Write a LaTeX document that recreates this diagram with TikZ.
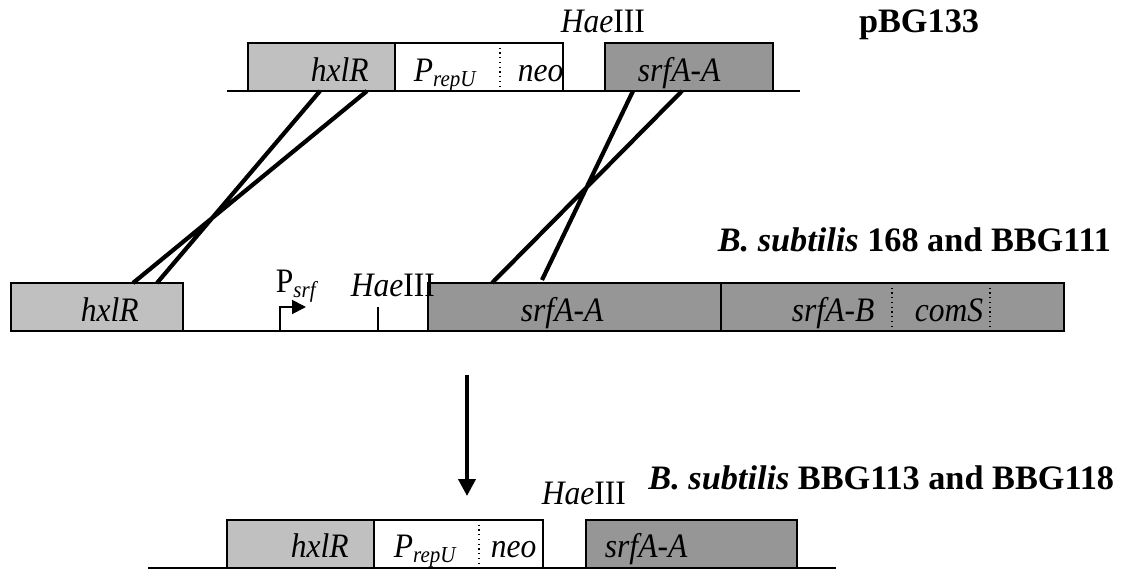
\documentclass[tikz,border=0pt]{standalone}
\usepackage{fontspec}
\setmainfont{Liberation Serif}
\newfontfamily\genefont[FakeStretch=0.92]{Liberation Serif}
\usetikzlibrary{arrows.meta}
\definecolor{lightgene}{HTML}{C0C0C0}
\definecolor{darkgene}{HTML}{969696}
\newcommand{\lowsub}[1]{\raisebox{-2.8pt}{\fontsize{13}{14}\selectfont #1}}
\begin{document}
\begin{tikzpicture}[x=0.02cm, y=-0.02cm, line width=1.1pt,
    gene/.style={inner sep=0, anchor=base west, font=\genefont\fontsize{19.5}{21}\selectfont\itshape},
    site/.style={inner sep=0, anchor=base west, font=\genefont\fontsize{19.5}{21}\selectfont},
    strain/.style={inner sep=0, anchor=base east, font=\fontsize{19.5}{22}\selectfont\bfseries},
    cross/.style={line width=2.4pt},
    divider/.style={dotted, line width=0.7pt}]
  \useasboundingbox (0,0) rectangle (1126,570);
  % pBG133
  \draw (227,91) -- (800,91);
  \draw[fill=lightgene] (248,43) rectangle (395,91);
  \draw[fill=white] (395,43) rectangle (563,91);
  \draw[divider] (500,43) -- (500,91);
  \draw[fill=darkgene] (605,43) rectangle (773,91);
  \node[gene] (thxl) at (310,82) {hxlR};
  \node[gene] (tprep) at (413,82) {P\lowsub{repU}};
  \node[gene] (tneo) at (517,82) {neo};
  \node[gene] (tsrfa) at (637,82) {srfA-A};
  \node[site] (thae) at (560,33) {\textit{Hae}III};
  \node[strain] (tname) at (980,33) {pBG133};
  \coordinate (ta1) at (320,91);
  \coordinate (ta2) at (367,91);
  \coordinate (tb1) at (633,91);
  \coordinate (tb2) at (682,91);
  % chromosome
  \draw (183,331) -- (428,331);
  \draw[fill=lightgene] (11,283) rectangle (183,331);
  \draw[fill=darkgene] (428,283) rectangle (1064,331);
  \draw (721,283) -- (721,331);
  \draw[divider] (892,283) -- (892,331) (990,283) -- (990,331);
  \draw[-{Triangle[length=0.28cm,width=0.28cm]}] (280,331) -- (280,307) -- (306,307);
  \draw (378,307) -- (378,331);
  \node[gene] (mhxl) at (80,322) {hxlR};
  \node[site] (mpsrf) at (275,293) {P\lowsub{\textit{srf}}};
  \node[site] (mhae) at (350,297) {\textit{Hae}III};
  \node[gene] (msrfa) at (520,322) {srfA-A};
  \node[gene] (msrfb) at (791,322) {srfA-B};
  \node[gene] (mcom) at (914,322) {comS};
  \node[strain] (mname) at (1112,252) {\textit{B. subtilis} 168 and BBG111};
  \coordinate (ma1) at (133,283);
  \coordinate (ma2) at (157,283);
  \coordinate (mb1) at (492,283);
  \coordinate (mb2) at (542,280);
  \draw[cross] (ta1) -- (ma2) (ta2) -- (ma1);
  \draw[cross] (tb1) -- (mb2) (tb2) -- (mb1);
  % result
  \coordinate (down1) at (467,375);
  \coordinate (down2) at (467,496);
  \draw[line width=2.2pt, -{Triangle[length=0.34cm,width=0.34cm]}] (down1) -- (down2);
  \draw (148,568) -- (836,568);
  \draw[fill=lightgene] (227,520) rectangle (374,568);
  \draw[fill=white] (374,520) rectangle (543,568);
  \draw[divider] (479,520) -- (479,568);
  \draw[fill=darkgene] (586,520) rectangle (797,568);
  \node[gene] (bhxl) at (290,558) {hxlR};
  \node[gene] (bprep) at (393,558) {P\lowsub{repU}};
  \node[gene] (bneo) at (490,558) {neo};
  \node[gene] (bsrfa) at (604,558) {srfA-A};
  \node[site] (bhae) at (541,505) {\textit{Hae}III};
  \node[strain] (bname) at (1115,490) {\textit{B. subtilis} BBG113 and BBG118};
\end{tikzpicture}
\end{document}
